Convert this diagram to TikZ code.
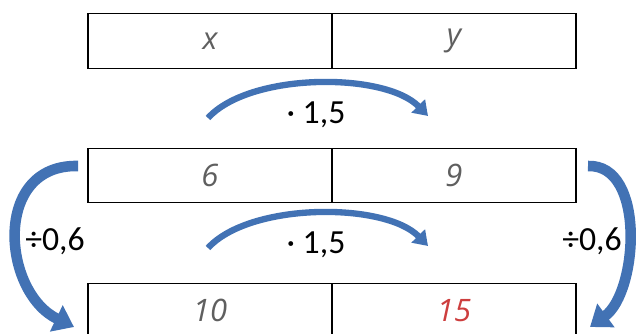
\documentclass[tikz,border=0pt]{standalone}
\usepackage{fontspec}
\setmainfont{Carlito}
\newfontfamily\cellfont{Open Sans}
\usepackage{tikz}
\usetikzlibrary{arrows.meta,positioning}
\definecolor{arcBlue}{RGB}{66,114,180}
\definecolor{cellGray}{RGB}{95,95,95}
\definecolor{cellRed}{RGB}{205,62,62}
\tikzset{
  cell/.style={draw, line width=1pt, minimum width=6.1cm, minimum height=1.36cm, inner sep=0pt,
    font=\cellfont\itshape\fontsize{22}{26}\selectfont, text=cellGray},
  flow/.style={arcBlue, line width=4.5pt, -{Triangle[width=13pt,length=10pt]}},
  sideflow/.style={arcBlue, line width=7.5pt, -{Triangle[width=20pt,length=14pt]}},
  factor/.style={font=\fontsize{24}{29}\selectfont, text=black}
}

\begin{document}
\begin{tikzpicture}[x=0.025cm, y=-0.025cm]
        \useasboundingbox (0,0) rectangle (637,334);
        % table rows
        \node[cell] (x) at (210,41) {x};
        \node[cell] (y) at (454,41) {y};
        \node[cell] (x6) at (210,175.5) {6};
        \node[cell] (y9) at (454,175.5) {9};
        \node[cell] (x10) at (210,310.5) {10};
        \node[cell, text=cellRed] (y15) at (454,310.5) {15};
        % arrow ends
        \coordinate (topA) at (208,118);
        \coordinate (topB) at (428,116);
        \coordinate (midA) at (208,248);
        \coordinate (midB) at (428,246);
        \coordinate (leftA) at (78,166);
        \coordinate (leftB) at (74,327);
        \coordinate (rightA) at (588,166);
        \coordinate (rightB) at (590,327);
        \draw[flow] (topA) .. controls (250,72) and (385,72) .. (topB);
        \draw[flow] (midA) .. controls (250,202) and (385,202) .. (midB);
        \draw[sideflow] (leftA) .. controls (-8,164) and (2,292) .. (leftB);
        \draw[sideflow] (rightA) .. controls (646,164) and (638,292) .. (rightB);
        % factors
        \node[factor] (mulTop) at (316,115) {· 1,5};
        \node[factor] (mulMid) at (316,245) {· 1,5};
        \node[factor] (divLeft) at (55,241) {÷0,6};
        \node[factor] (divRight) at (592,241) {÷0,6};
    \end{tikzpicture}
\end{document}
